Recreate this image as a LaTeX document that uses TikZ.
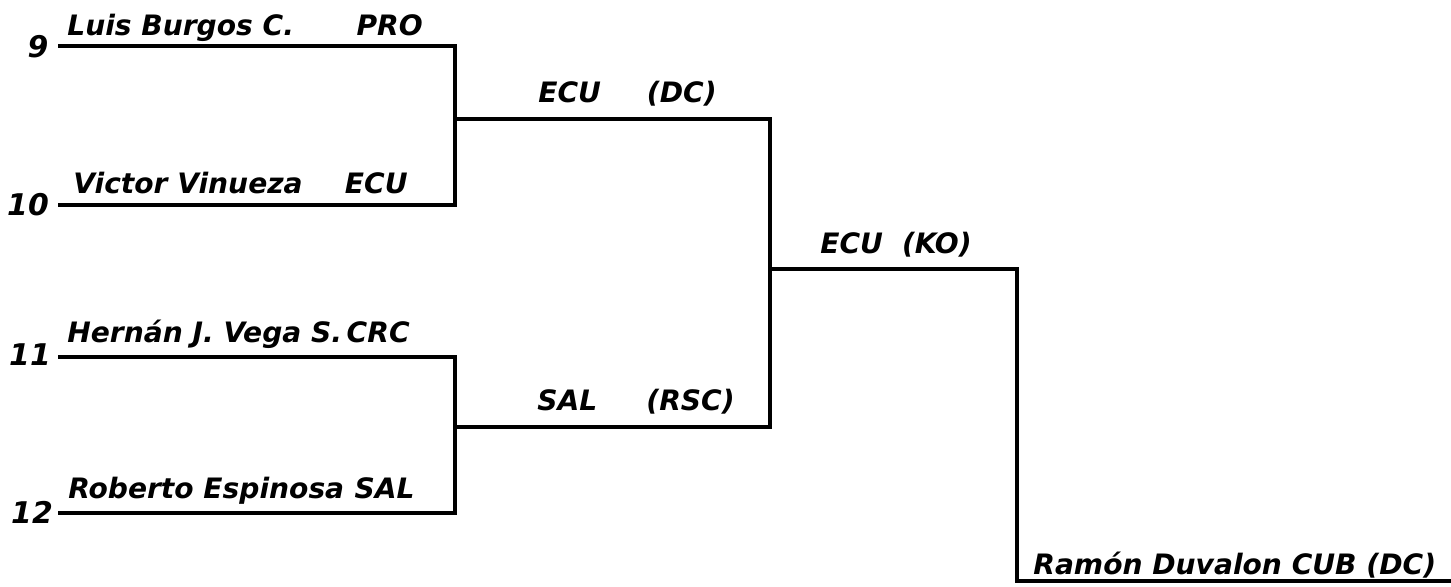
\documentclass[tikz,border=0pt]{standalone}
\usepackage{fontspec}
\setmainfont{DejaVu Sans}
\usepackage{tikz}

\tikzset{
  bracket/.style={line width=2.2pt, line join=miter},
  namelbl/.style={anchor=base west, inner sep=0pt, font=\bfseries\itshape\fontsize{16}{18}\selectfont},
  ctylbl/.style={anchor=base east, inner sep=0pt, font=\bfseries\itshape\fontsize{16}{18}\selectfont},
  seedno/.style={inner sep=0pt, font=\bfseries\itshape\fontsize{17}{18}\selectfont}
}

\begin{document}
\begin{tikzpicture}[x=0.02cm, y=-0.02cm]
      \useasboundingbox (0,0) rectangle (1451,586);

      % slots of the first round
      \coordinate (s9) at (58,46);
      \coordinate (s10) at (58,205);
      \coordinate (s11) at (58,357);
      \coordinate (s12) at (58,513);
      \coordinate (semiA) at (455,119);
      \coordinate (semiB) at (455,427);
      \coordinate (final) at (770,269);
      \coordinate (champ) at (1017,581);
      \coordinate (champEnd) at (1451,581);

      \draw[bracket] (s9) -| (semiA) |- (s10);
      \draw[bracket] (s11) -| (semiB) |- (s12);
      \draw[bracket] (semiA) -| (final) |- (semiB);
      \draw[bracket] (final) -| (champ) -- (champEnd);

      \node[seedno] (no9) at (38,47) {9};
      \node[seedno] (no10) at (28,205) {10};
      \node[seedno] (no11) at (30,355) {11};
      \node[seedno] (no12) at (32,512) {12};

      \node[namelbl] (n9) at (67,35) {Luis Burgos C.};
      \node[ctylbl] (c9) at (423,35) {PRO};
      \node[namelbl] (n10) at (73,193) {Victor Vinueza};
      \node[ctylbl] (c10) at (408,193) {ECU};
      \node[namelbl] (n11) at (67,342) {Hernán J. Vega S.};
      \node[ctylbl] (c11) at (410,342) {CRC};
      \node[namelbl] (n12) at (68,498) {Roberto Espinosa};
      \node[ctylbl] (c12) at (415,498) {SAL};

      \node[namelbl] (wA) at (538,102) {ECU};
      \node[ctylbl] (wAres) at (717,102) {(DC)};
      \node[namelbl] (wB) at (537,410) {SAL};
      \node[ctylbl] (wBres) at (735,410) {(RSC)};
      \node[namelbl] (wF) at (820,253) {ECU};
      \node[ctylbl] (wFres) at (972,253) {(KO)};
      \node[namelbl] (wC) at (1033,574) {Ramón Duvalon CUB (DC)};
    \end{tikzpicture}
\end{document}
